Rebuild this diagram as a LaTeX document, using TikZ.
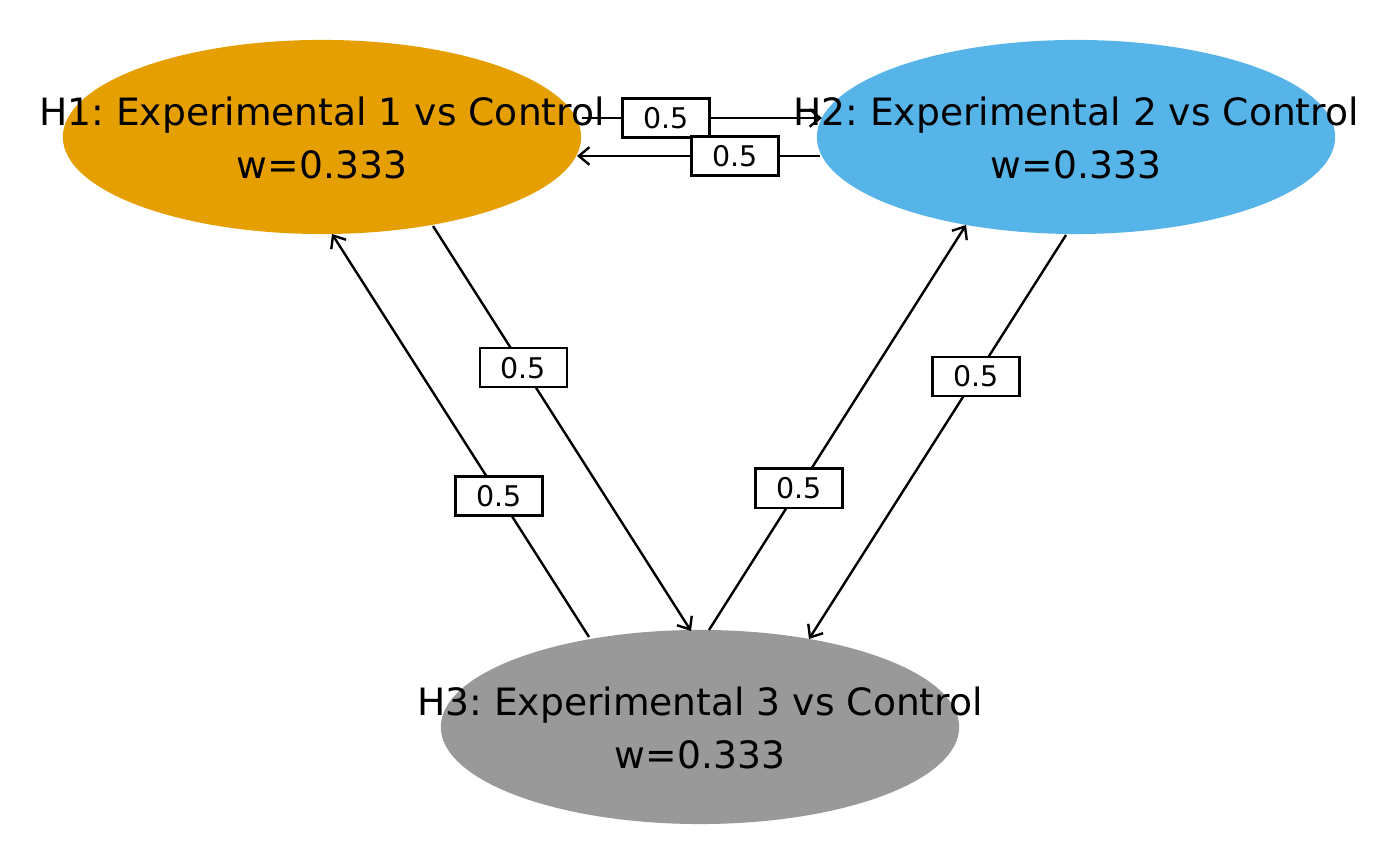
\documentclass[tikz,border=0pt]{standalone}
\usepackage{fontspec}
\setmainfont{DejaVu Sans}
\frenchspacing
\usetikzlibrary{shapes.geometric,arrows.meta,calc}
\definecolor{cH1}{HTML}{E69F00}
\definecolor{cH2}{HTML}{56B4E9}
\definecolor{cH3}{HTML}{999999}
\tikzset{
  hyp/.style={ellipse, minimum width=5.18cm, minimum height=1.94cm, inner sep=0pt, draw=none},
  hyptext/.style={align=center, font=\fontsize{10.7}{15.1}\selectfont, inner sep=0pt},
  edge/.style={line width=0.68pt, -{Straight Barb[length=3pt,width=5pt,line width=0.68pt]}},
  wlab/.style={draw, fill=white, line width=0.7pt, minimum width=0.87cm, minimum height=0.39cm, inner sep=0pt, font=\fontsize{8.1}{9}\selectfont, pos=0.35}
}
\begin{document}
\begin{tikzpicture}[x=0.01cm,y=-0.01cm]
\useasboundingbox (0,0) rectangle (1400,865);
\node[hyp, fill=cH1] (h1) at (322,137) {};
\node[hyp, fill=cH2] (h2) at (1076,137) {};
\node[hyp, fill=cH3] (h3) at (700,727) {};
\node[hyptext] (t1) at ($(h1)+(0,1)$) {H1: Experimental 1 vs Control\\w=0.333};
\node[hyptext] (t2) at ($(h2)+(0,1)$) {H2: Experimental 2 vs Control\\w=0.333};
\node[hyptext] (t3) at ($(h3)+(0,1)$) {H3: Experimental 3 vs Control\\w=0.333};
\draw[edge] ($(h1)+(260,-19)$) -- node[wlab] (l12) {0.5} ($(h2)+(-254,-19)$);
\draw[edge] ($(h2)+(-256,19)$) -- node[wlab] (l21) {0.5} ($(h1)+(255,19)$);
\draw[edge] ($(h1)+(111,89)$) -- node[wlab] (l13) {0.5} ($(h3)+(-9,-96)$);
\draw[edge] ($(h3)+(-111,-90)$) -- node[wlab] (l31) {0.5} ($(h1)+(10,97)$);
\draw[edge] ($(h3)+(9,-97)$) -- node[wlab] (l32) {0.5} ($(h2)+(-110,88)$);
\draw[edge] ($(h2)+(-10,98)$) -- node[wlab] (l23) {0.5} ($(h3)+(109,-88)$);
\end{tikzpicture}
\end{document}
